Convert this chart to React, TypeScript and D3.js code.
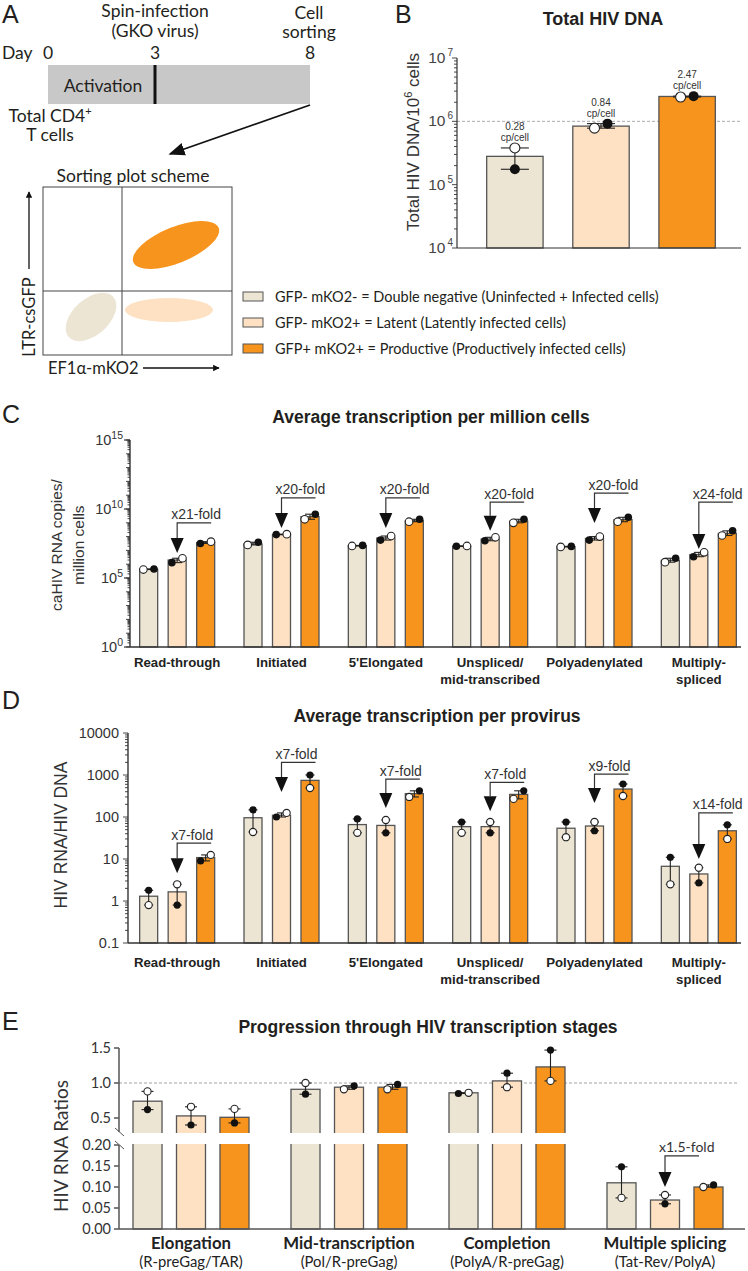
import React from 'react';
import * as d3 from 'd3';

const ARIAL = '"Liberation Sans", Arial, Helvetica, sans-serif';
const MYRIAD = 'Lato, "Open Sans", sans-serif';
const INK = '#231f20';
const FILLS = ['#ece5d3', '#fde1c2', '#f7941d'];
const EDGE = '#555555';

// legend
const legendText = [
  'GFP- mKO2- = Double negative (Uninfected + Infected cells)',
  'GFP- mKO2+ = Latent (Latently infected cells)',
  'GFP+ mKO2+ = Productive (Productively infected cells)',
];

// panel B - total HIV DNA / 10^6 cells
const dnaMean = [2.8e5, 8.4e5, 2.47e6];
const dnaOpen = [3.8e5, 7.8e5, 2.42e6];
const dnaFilled = [1.75e5, 9.2e5, 2.5e6];
const dnaCopies = ['0.28', '0.84', '2.47'];

// panels C, D categories
const stages = [
  ['Read-through'],
  ['Initiated'],
  ["5'Elongated"],
  ['Unspliced/', 'mid-transcribed'],
  ['Polyadenylated'],
  ['Multiply-', 'spliced'],
];

// panel C - caHIV RNA copies per million cells [DN, latent, productive]
const cellMean = [
  [4.3e5, 2.0e6, 3.7e7],
  [2.9e7, 1.4e8, 2.8e9],
  [2.2e7, 7.9e7, 1.4e9],
  [2.0e7, 6.6e7, 1.3e9],
  [1.9e7, 7.4e7, 1.7e9],
  [1.9e6, 5.0e6, 1.7e8],
];
const cellOpen = [
  [4.1e5, 2.7e6, 4.3e7],
  [2.5e7, 1.5e8, 1.8e9],
  [2.1e7, 1.1e8, 1.2e9],
  [2.1e7, 8.9e7, 1.0e9],
  [1.8e7, 1.0e8, 1.2e9],
  [1.4e6, 7.2e6, 1.2e8],
];
const cellFilled = [
  [4.5e5, 1.3e6, 3.2e7],
  [3.9e7, 1.4e8, 4.2e9],
  [2.3e7, 5.6e7, 1.8e9],
  [2.0e7, 5.0e7, 1.8e9],
  [1.95e7, 5.6e7, 2.5e9],
  [2.7e6, 3.5e6, 2.6e8],
];
const cellFold = ['x21-fold', 'x20-fold', 'x20-fold', 'x20-fold', 'x20-fold', 'x24-fold'];
const cellFoldLine = [1e9, 6.3e10, 6.3e10, 3.2e10, 1.4e11, 3.2e10];
const cellFoldTip = [6.5e6, 4.2e8, 4.2e8, 2.6e8, 9.7e8, 1.26e7];

// panel D - HIV RNA / HIV DNA
const provMean = [
  [1.3, 1.65, 10.8],
  [96, 110, 745],
  [66, 63, 360],
  [59, 59, 345],
  [54, 61, 463],
  [6.7, 4.4, 47],
];
const provOpen = [
  [0.8, 2.5, 12.5],
  [44, 125, 490],
  [42, 85, 300],
  [42, 76, 270],
  [33, 76, 316],
  [2.5, 6.2, 30],
];
const provFilled = [
  [1.8, 0.8, 9],
  [148, 100, 1000],
  [90, 42, 420],
  [76, 42, 420],
  [76, 47, 610],
  [11, 2.7, 65],
];
const provFold = ['x7-fold', 'x7-fold', 'x7-fold', 'x7-fold', 'x9-fold', 'x14-fold'];
const provFoldLine = [24, 2000, 800, 670, 1050, 126];
const provFoldTip = [4.6, 394, 163, 138, 215, 10];

// panel E - ratios
const ratioStages = [
  ['Elongation', '(R-preGag/TAR)'],
  ['Mid-transcription', '(Pol/R-preGag)'],
  ['Completion', '(PolyA/R-preGag)'],
  ['Multiple splicing', '(Tat-Rev/PolyA)'],
];
const ratioMean = [[0.74, 0.53, 0.51], [0.91, 0.94, 0.94], [0.86, 1.03, 1.23], [0.11, 0.069, 0.1]];
const ratioOpen = [[0.88, 0.66, 0.63], [1.0, 0.91, 0.91], [0.86, 0.94, 1.03], [0.074, 0.081, 0.1]];
const ratioFilled = [[0.62, 0.4, 0.43], [0.84, 0.96, 0.98], [0.85, 1.14, 1.47], [0.148, 0.06, 0.105]];
const ratioUpperTicks = [0.5, 1.0, 1.5];
const ratioLowerTicks = [0, 0.05, 0.1, 0.15, 0.2];

function Bar({ cx, bw, top, base, fill }: any) {
  return <rect x={cx - bw / 2} y={top} width={bw} height={base - top} fill={fill} stroke={EDGE} strokeWidth={1.3} />;
}

function Dots({ cx, yo, yf, open, filled, r, cap }: any) {
  let dxo = 0, dxf = 0;
  if (Math.abs(yo - yf) < 2 * r + 1) {
    const d = r + 1.5;
    if (open <= filled) { dxo = -d; dxf = d; } else { dxo = d; dxf = -d; }
  }
  const top = Math.min(yo, yf), bot = Math.max(yo, yf);
  return (
    <g stroke="#222" strokeWidth={1.1}>
      <line x1={cx} x2={cx} y1={top} y2={bot} />
      <line x1={cx - cap / 2} x2={cx + cap / 2} y1={top} y2={top} />
      <line x1={cx - cap / 2} x2={cx + cap / 2} y1={bot} y2={bot} />
      <circle cx={cx + dxf} cy={yf} r={r} fill="#111" stroke="none" />
      <circle cx={cx + dxo} cy={yo} r={r} fill="#fff" />
    </g>
  );
}

function Fold({ x, lineY, tipY, label, font }: any) {
  const th = 15, hw = 6.5;
  return (
    <g>
      <polyline points={`${x + 34},${lineY} ${x},${lineY} ${x},${tipY - th}`} fill="none" stroke="#333" strokeWidth={1.2} />
      <path d={`M${x - hw},${tipY - th}L${x + hw},${tipY - th}L${x},${tipY}Z`} fill="#111" />
      <text x={x - 6} y={lineY - 3.5} fontSize={14} fontFamily={font} fill="#333">{label}</text>
    </g>
  );
}

function LogTicks({ y, x, lo, hi, len, minorLen }: any) {
  const out: any[] = [];
  for (let e = lo; e <= hi; e++) {
    const v = Math.pow(10, e);
    out.push(<line key={'M' + e} x1={x - len} x2={x} y1={y(v)} y2={y(v)} />);
    if (e < hi) {
      for (let k = 2; k <= 9; k++) {
        out.push(<line key={'m' + e + k} x1={x - minorLen} x2={x} y1={y(v * k)} y2={y(v * k)} />);
      }
    }
  }
  return <g stroke="#333" strokeWidth={0.9}>{out}</g>;
}

function Legend() {
  return (
    <g fontFamily={MYRIAD} fontSize={14.5} fill={INK}>
      {legendText.map((t, i) => (
        <g key={i}>
          <rect x={243} y={292 + i * 26} width={20} height={9} fill={FILLS[i]} stroke={EDGE} strokeWidth={1} />
          <text x={275} y={302 + i * 26}>{t}</text>
        </g>
      ))}
    </g>
  );
}

function PanelA() {
  const day = d3.scaleLinear().domain([0, 3, 8]).range([48, 155, 310]);
  const fs = 17.5;
  return (
    <g fontFamily={MYRIAD} fill={INK}>
      <defs>
        <marker id="ah" viewBox="0 0 10 10" refX={9} refY={5} markerWidth={9} markerHeight={9} orient="auto">
          <path d="M0,1L10,5L0,9Z" fill="#111" />
        </marker>
        <marker id="ahs" viewBox="0 0 10 10" refX={9} refY={5} markerWidth={5} markerHeight={5} orient="auto">
          <path d="M0,0L10,5L0,10Z" fill="#111" />
        </marker>
      </defs>
      <text x={2} y={23} fontSize={25} fontFamily={ARIAL}>A</text>
      <text x={day(3)} y={17} fontSize={fs} textAnchor="middle">Spin-infection</text>
      <text x={day(3)} y={37} fontSize={fs} textAnchor="middle">(GKO virus)</text>
      <text x={309} y={19} fontSize={fs} textAnchor="middle">Cell</text>
      <text x={309} y={38} fontSize={fs} textAnchor="middle">sorting</text>
      <text x={2} y={59} fontSize={fs}>Day</text>
      {[0, 3, 8].map(d => (
        <text key={d} x={day(d)} y={59} fontSize={fs} textAnchor="middle">{d}</text>
      ))}
      <rect x={day(0)} y={65} width={day(8) - day(0)} height={39} fill="#c8c8c8" />
      <line x1={day(3)} x2={day(3)} y1={65} y2={104} stroke="#111" strokeWidth={3} />
      <text x={103} y={92} fontSize={fs} textAnchor="middle">Activation</text>
      <text x={50} y={122} fontSize={fs} textAnchor="middle">Total CD4<tspan dy={-7} fontSize={11}>+</tspan></text>
      <text x={50} y={141} fontSize={fs} textAnchor="middle">T cells</text>
      <line x1={310} y1={105} x2={170} y2={154} stroke="#111" strokeWidth={1.8} markerEnd="url(#ah)" />

      <text x={133} y={182} fontSize={fs} textAnchor="middle">Sorting plot scheme</text>
      <rect x={43} y={187} width={189} height={168} fill="#fff" stroke="#444" strokeWidth={1} />
      <line x1={122} x2={122} y1={187} y2={355} stroke="#444" />
      <line x1={43} x2={232} y1={291} y2={291} stroke="#444" />
      <ellipse cx={176} cy={245} rx={46} ry={18} transform="rotate(-22 176 245)" fill={FILLS[2]} />
      <ellipse cx={91} cy={317} rx={30} ry={18} transform="rotate(-42 91 317)" fill={FILLS[0]} />
      <ellipse cx={169} cy={310} rx={44} ry={12} fill={FILLS[1]} />
      <line x1={29} x2={29} y1={269} y2={192} stroke="#111" strokeWidth={1.3} markerEnd="url(#ahs)" />
      <text transform="translate(35 317) rotate(-90)" fontSize={16.5} textAnchor="middle">LTR-csGFP</text>
      <text x={48} y={374} fontSize={16.5}>EF1α-mKO2</text>
      <line x1={143} x2={219} y1={368} y2={368} stroke="#111" strokeWidth={1.3} markerEnd="url(#ahs)" />
    </g>
  );
}

function PanelB() {
  const y = d3.scaleLog().domain([1e4, 1e7]).range([248, 58]);
  const x = d3.scaleBand<number>().domain(d3.range(3)).range([458, 744]).paddingInner(0.345).paddingOuter(0.333);
  const ax = 457, base = 248;
  const bw = x.bandwidth();
  return (
    <g>
      <text x={395} y={23} fontSize={25} fontFamily={ARIAL} fill={INK}>B</text>
      <text x={603} y={25} textAnchor="middle" fontSize={18} fontWeight="bold" fontFamily={ARIAL} fill={INK}>Total HIV DNA</text>
      <line x1={ax} x2={740} y1={y(1e6)} y2={y(1e6)} stroke="#aaa" strokeDasharray="3,2" />
      {dnaMean.map((m, i) => (
        <Bar key={i} cx={x(i)! + bw / 2} bw={bw} top={y(m)} base={base} fill={FILLS[i]} />
      ))}
      {dnaMean.map((m, i) => (
        <Dots key={i} cx={x(i)! + bw / 2} yo={y(dnaOpen[i])} yf={y(dnaFilled[i])} open={dnaOpen[i]} filled={dnaFilled[i]} r={5} cap={28} />
      ))}
      {dnaCopies.map((c, i) => {
        const top = y(Math.max(dnaOpen[i], dnaFilled[i]));
        return (
          <g key={i} fontFamily={ARIAL} fontSize={10} fill="#333" textAnchor="middle">
            <text x={x(i)! + bw / 2} y={top - 18}>{c}</text>
            <text x={x(i)! + bw / 2} y={top - 7}>cp/cell</text>
          </g>
        );
      })}
      <LogTicks y={y} x={ax} lo={4} hi={7} len={5} minorLen={3} />
      <line x1={ax} x2={ax} y1={58} y2={base} stroke="#333" strokeWidth={1.2} />
      <line x1={ax} x2={741} y1={base} y2={base} stroke="#333" strokeWidth={1.2} />
      {[4, 5, 6, 7].map(e => (
        <text key={e} x={453} y={y(Math.pow(10, e)) + 5} textAnchor="end" fontFamily={ARIAL} fontSize={15.5} fill="#444">
          10<tspan dx={2} dy={-7} fontSize={10}>{e}</tspan>
        </text>
      ))}
      <text transform="translate(419 142) rotate(-90)" textAnchor="middle" fontFamily={ARIAL} fontSize={17} fill="#333">
        Total HIV DNA/10<tspan dy={-7} fontSize={11}>6</tspan><tspan dy={7}> cells</tspan>
      </text>
    </g>
  );
}

function groupedX(lo: number, hi: number, n: number, innerWidth: number, pad: number) {
  const g = d3.scaleBand<number>().domain(d3.range(n)).range([lo, hi]);
  const inner = d3.scaleBand<number>().domain(d3.range(3)).range([0, innerWidth]).paddingInner(pad).paddingOuter(pad / 2);
  const off = g.bandwidth() / 2 - innerWidth / 2;
  return {
    center: (gi: number) => g(gi)! + g.bandwidth() / 2,
    bar: (gi: number, bi: number) => g(gi)! + off + inner(bi)! + inner.bandwidth() / 2,
    bw: inner.bandwidth(),
  };
}

function LogBarPanel({ y, ax, base, top, means, opens, filleds, folds, foldLine, foldTip, r, cap, labelY }: any) {
  const X = groupedX(125, 751, 6, 85.5, 0.368);
  return (
    <g>
      {means.map((row: number[], g: number) => row.map((m, b) => (
        <Bar key={g + '-' + b} cx={X.bar(g, b)} bw={X.bw} top={y(m)} base={base} fill={FILLS[b]} />
      )))}
      {means.map((row: number[], g: number) => row.map((m, b) => (
        <Dots key={g + '-' + b} cx={X.bar(g, b)} yo={y(opens[g][b])} yf={y(filleds[g][b])} open={opens[g][b]} filled={filleds[g][b]} r={r} cap={cap} />
      )))}
      {folds.map((f: string, g: number) => (
        <Fold key={g} x={X.bar(g, 1)} lineY={y(foldLine[g])} tipY={y(foldTip[g])} label={f} font={ARIAL} />
      ))}
      <line x1={ax} x2={ax} y1={top} y2={base} stroke="#333" strokeWidth={1.4} />
      <line x1={ax} x2={741} y1={base} y2={base} stroke="#333" strokeWidth={1.4} />
      {stages.map((lines, g) => (
        <text key={g} textAnchor="middle" fontFamily={ARIAL} fontWeight="bold" fontSize={13.2} fill="#222">
          {lines.map((l, k) => (
            <tspan key={k} x={X.center(g)} y={labelY + k * 17}>{l}</tspan>
          ))}
        </text>
      ))}
    </g>
  );
}

function PanelC() {
  const y = d3.scaleLog().domain([1, 1e15]).range([647, 440]);
  return (
    <g>
      <text x={2} y={423} fontSize={25} fontFamily={ARIAL} fill={INK}>C</text>
      <text x={431} y={423} textAnchor="middle" fontSize={17.5} fontWeight="bold" fontFamily={ARIAL} fill={INK}>Average transcription per million cells</text>
      <LogBarPanel y={y} ax={130} base={647} top={440} means={cellMean} opens={cellOpen} filleds={cellFilled}
        folds={cellFold} foldLine={cellFoldLine} foldTip={cellFoldTip} r={3.8} cap={10} labelY={667} />
      <LogTicks y={y} x={130} lo={0} hi={15} len={4} minorLen={2.5} />
      {[0, 5, 10, 15].map(e => (
        <g key={e}>
          <line x1={124} x2={130} y1={y(Math.pow(10, e))} y2={y(Math.pow(10, e))} stroke="#333" strokeWidth={1.2} />
          <text x={123} y={y(Math.pow(10, e)) + 5} textAnchor="end" fontFamily={ARIAL} fontSize={14.5} fill="#333">
            10<tspan dy={-6} fontSize={10.5}>{e}</tspan>
          </text>
        </g>
      ))}
      <text transform="translate(62 545) rotate(-90)" textAnchor="middle" fontFamily={ARIAL} fontSize={15.5} fill="#333">caHIV RNA copies/</text>
      <text transform="translate(84 545) rotate(-90)" textAnchor="middle" fontFamily={ARIAL} fontSize={15.5} fill="#333">million cells</text>
    </g>
  );
}

function PanelD() {
  const y = d3.scaleLog().domain([0.1, 1e4]).range([943, 733]);
  const labels = ['0.1', '1', '10', '100', '1000', '10000'];
  return (
    <g>
      <text x={2} y={709} fontSize={25} fontFamily={ARIAL} fill={INK}>D</text>
      <text x={437} y={722} textAnchor="middle" fontSize={17.5} fontWeight="bold" fontFamily={ARIAL} fill={INK}>Average transcription per provirus</text>
      <LogBarPanel y={y} ax={128} base={943} top={733} means={provMean} opens={provOpen} filleds={provFilled}
        folds={provFold} foldLine={provFoldLine} foldTip={provFoldTip} r={3.6} cap={9} labelY={967} />
      <LogTicks y={y} x={128} lo={-1} hi={4} len={5} minorLen={3} />
      {labels.map((l, i) => (
        <text key={l} x={119} y={y(Math.pow(10, i - 1)) + 5} textAnchor="end" fontFamily={ARIAL} fontSize={14.5} fill="#333">{l}</text>
      ))}
      <text transform="translate(67 835) rotate(-90)" textAnchor="middle" fontFamily={ARIAL} fontSize={17.5} fill="#333">HIV RNA/HIV DNA</text>
    </g>
  );
}

function PanelE() {
  const up = d3.scaleLinear().domain([0.3, 1.5]).range([1132, 1048]);
  const low = d3.scaleLinear().domain([0, 0.2]).range([1229, 1145]);
  const yv = (v: number) => (v >= 0.25 ? up(v) : low(v));
  const X = (() => {
    const g = d3.scaleBand<number>().domain(d3.range(4)).range([112, 744]);
    const inner = d3.scaleBand<number>().domain(d3.range(3)).range([0, 130.5]).paddingInner(0.333).paddingOuter(0.1667);
    const off = g.bandwidth() / 2 - 65.25;
    return {
      center: (gi: number) => g(gi)! + g.bandwidth() / 2,
      bar: (gi: number, bi: number) => g(gi)! + off + inner(bi)! + inner.bandwidth() / 2,
      bw: inner.bandwidth(),
    };
  })();
  const ax = 119, base = 1229;
  const axisCol = '#555';
  return (
    <g>
      <text x={2} y={1030} fontSize={25} fontFamily={ARIAL} fill={INK}>E</text>
      <text x={428} y={1033} textAnchor="middle" fontSize={17.5} fontWeight="bold" fontFamily={ARIAL} fill={INK}>Progression through HIV transcription stages</text>
      <line x1={ax} x2={737} y1={up(1)} y2={up(1)} stroke="#999" strokeDasharray="3,2" strokeWidth={0.9} />
      {ratioMean.map((row, g) => row.map((m, b) => (
        <Bar key={g + '-' + b} cx={X.bar(g, b)} bw={X.bw} top={yv(m)} base={base} fill={FILLS[b]} />
      )))}
      <rect x={ax - 3} y={1133} width={630} height={11} fill="#fff" />
      {ratioMean.map((row, g) => row.map((m, b) => (
        <Dots key={g + '-' + b} cx={X.bar(g, b)} yo={yv(ratioOpen[g][b])} yf={yv(ratioFilled[g][b])} open={ratioOpen[g][b]} filled={ratioFilled[g][b]} r={3.6} cap={12} />
      )))}
      <Fold x={X.bar(3, 1)} lineY={low(0.174)} tipY={low(0.1)} label="x1.5-fold" font={MYRIAD} />
      <g stroke={axisCol} strokeWidth={1.5}>
        <line x1={ax} x2={ax} y1={1048} y2={1132} />
        <line x1={ax} x2={ax} y1={1145} y2={base} />
        <line x1={ax} x2={745} y1={base} y2={base} />
        {ratioUpperTicks.map(t => <line key={'u' + t} x1={ax - 5} x2={ax} y1={up(t)} y2={up(t)} />)}
        {ratioLowerTicks.map(t => <line key={'l' + t} x1={ax - 5} x2={ax} y1={low(t)} y2={low(t)} />)}
        <line x1={115} x2={124} y1={1128} y2={1136} strokeWidth={1} />
        <line x1={115} x2={124} y1={1141} y2={1149} strokeWidth={1} />
      </g>
      <g fontFamily={MYRIAD} fontSize={14.5} fill="#333" textAnchor="end">
        {ratioUpperTicks.map(t => <text key={'u' + t} x={111} y={up(t) + 5}>{t.toFixed(1)}</text>)}
        {ratioLowerTicks.map(t => <text key={'l' + t} x={111} y={low(t) + 5}>{t.toFixed(2)}</text>)}
      </g>
      <text transform="translate(68 1146) rotate(-90)" textAnchor="middle" fontFamily={MYRIAD} fontSize={19} fill="#333">HIV RNA Ratios</text>
      {ratioStages.map((s, g) => (
        <g key={g} textAnchor="middle" fontFamily={MYRIAD} fill="#222">
          <text x={X.center(g)} y={1249} fontSize={16.8} fontWeight="bold">{s[0]}</text>
          <text x={X.center(g)} y={1267} fontSize={14.8}>{s[1]}</text>
        </g>
      ))}
    </g>
  );
}

export default function App() {
  return (
    <svg width={748} height={1271} style={{ position: 'absolute', left: 0, top: 0, background: '#fff' }}>
      <PanelA />
      <Legend />
      <PanelB />
      <PanelC />
      <PanelD />
      <PanelE />
    </svg>
  );
}
